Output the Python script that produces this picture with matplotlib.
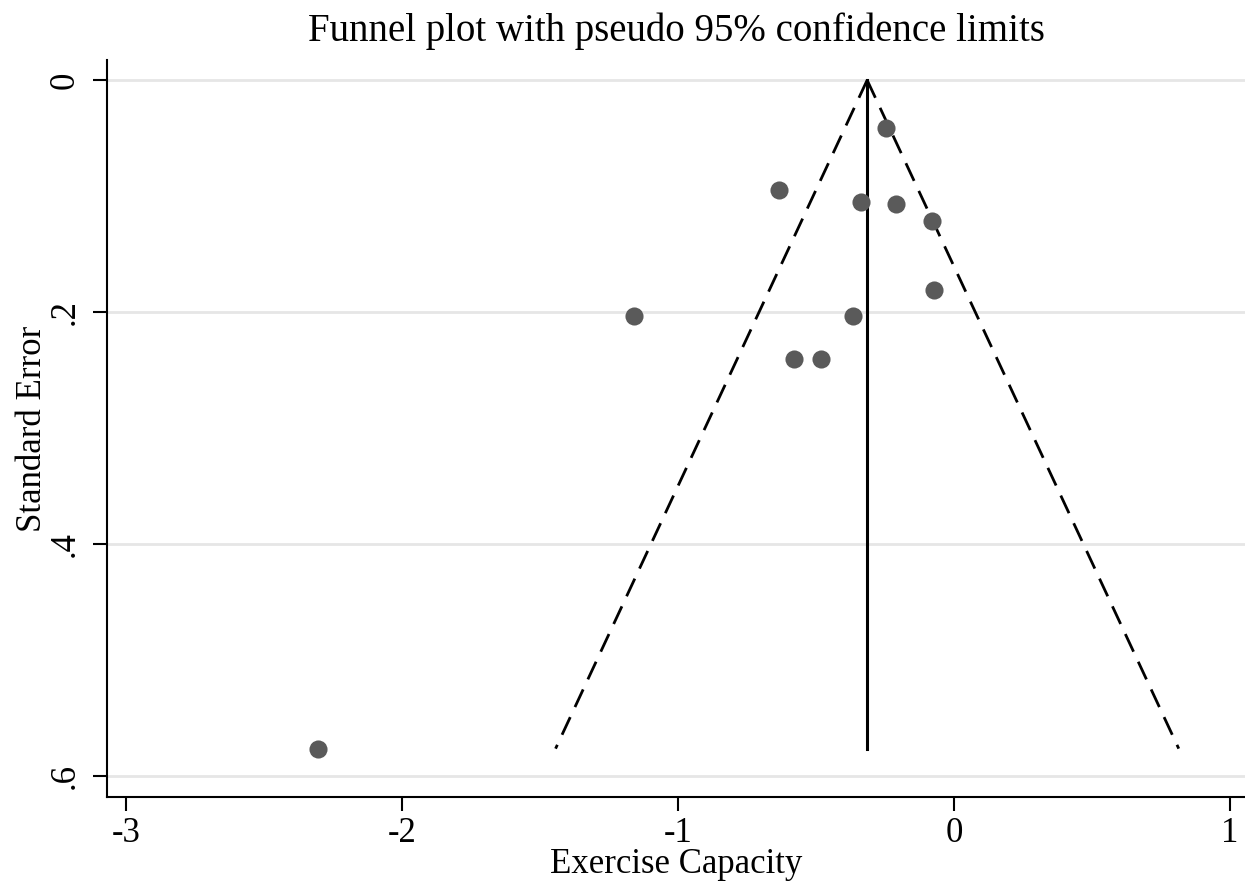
import numpy as np
import matplotlib.pyplot as plt

# effect sizes and standard errors
effect = [-0.246, -0.634, -0.337, -0.210, -0.080, -0.072, -1.159, -0.366, -0.580, -0.482, -2.304]
se = [0.041, 0.095, 0.105, 0.107, 0.121, 0.181, 0.203, 0.203, 0.240, 0.240, 0.576]
pooled = -0.315
x_ticks = [-3, -2, -1, 0, 1]
y_ticks = [0, 0.2, 0.4, 0.6]
y_tick_labels = ['0', '.2', '.4', '.6']

plt.rcParams['font.family'] = ['Liberation Serif', 'DejaVu Serif']

fig = plt.figure(figsize=(12.45, 8.85), dpi=100)
ax = fig.add_axes([0.086, 0.099, 0.914, 0.833])

# pseudo 95% limits
se_max = max(se)
se_line = np.array([0, se_max])
ax.plot(pooled - 1.96 * se_line, se_line, color='black', lw=2, ls=(0, (7, 4)), zorder=2)
ax.plot(pooled + 1.96 * se_line, se_line, color='black', lw=2, ls=(0, (7, 4)), zorder=2)
ax.plot([pooled, pooled], [0, se_max], color='black', lw=2.2, zorder=2)

ax.scatter(effect, se, s=170, color='#5a5a5a', zorder=3, linewidths=0)

ax.set_xlim(-3.069, 1.054)
ax.set_ylim(0.618, -0.0172)
ax.set_xticks(x_ticks)
ax.set_xticklabels([str(t) for t in x_ticks])
ax.set_yticks(y_ticks)
ax.set_yticklabels(y_tick_labels, rotation=90, va='center')
ax.grid(axis='y', color='#e6e6e6', lw=2)
ax.set_axisbelow(True)

for s in ['top', 'right']:
    ax.spines[s].set_visible(False)
for s in ['left', 'bottom']:
    ax.spines[s].set_linewidth(1.5)
ax.tick_params(length=10, width=1.5, labelsize=25)
ax.tick_params(axis='x', pad=4)
ax.tick_params(axis='y', pad=8)

ax.set_xlabel('Exercise Capacity', fontsize=25, labelpad=-1)
ax.set_ylabel('Standard Error', fontsize=25, labelpad=0)
ax.set_title('Funnel plot with pseudo 95% confidence limits', fontsize=28, pad=14)

fig.savefig('out.png', dpi=100)
